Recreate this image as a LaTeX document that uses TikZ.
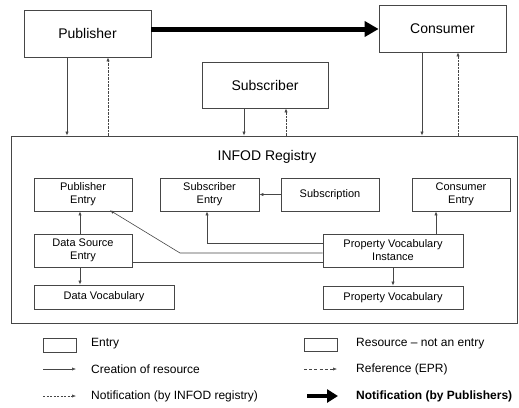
\documentclass[tikz,border=0pt]{standalone}
\usepackage{fontspec}
\setmainfont{Liberation Sans}
\usetikzlibrary{arrows.meta}
\definecolor{ln}{RGB}{70,70,70}
\begin{document}
\begin{tikzpicture}[x=1pt,y=-1pt,
  box/.style={draw=ln,line width=0.7pt,inner sep=1pt,align=center},
  bigbox/.style={box,font=\fontsize{14}{16}\selectfont},
  smallbox/.style={box,font=\fontsize{11}{13}\selectfont},
  sol/.style={draw=ln,line width=0.6pt,-{Latex[length=4pt,width=3.2pt]}},
  dsh/.style={sol,dash pattern=on 2.2pt off 1.3pt},
  refd/.style={sol,dash pattern=on 3pt off 2.2pt},
  thick arr/.style={draw=black,line width=5pt,-{Triangle[length=14pt,width=15pt]}},
  legtext/.style={anchor=west,font=\fontsize{12}{14}\selectfont,inner sep=0pt}]
\useasboundingbox (0,0) rectangle (519,407);
% top-level nodes
\node[bigbox,minimum width=127pt,minimum height=47pt] (pub) at (87.5,33.5) {Publisher};
\node[bigbox,minimum width=127pt,minimum height=47pt] (con) at (442.5,28.5) {Consumer};
\node[bigbox,minimum width=126pt,minimum height=46pt] (sub) at (265,85) {Subscriber};
\node[box,minimum width=506pt,minimum height=187pt] (reg) at (264,229.5) {};
\node[font=\fontsize{14}{16}\selectfont,inner sep=0pt] (regl) at (267,157) {INFOD Registry};
% registry content
\node[smallbox,minimum width=98pt,minimum height=33pt] (pe) at (83,194.5) {Publisher\\Entry};
\node[smallbox,minimum width=99pt,minimum height=33pt] (se) at (209.5,194.5) {Subscriber\\Entry};
\node[smallbox,minimum width=98pt,minimum height=33pt] (sn) at (330,194.5) {Subscription};
\node[smallbox,minimum width=98pt,minimum height=33pt] (ce) at (461,194.5) {Consumer\\Entry};
\node[smallbox,minimum width=98pt,minimum height=33pt] (dse) at (83,250.5) {Data Source\\Entry};
\node[smallbox,minimum width=140pt,minimum height=24pt] (dv) at (104,297) {Data Vocabulary};
\node[smallbox,minimum width=140pt,minimum height=33pt] (pvi) at (393,250.5) {Property Vocabulary\\Instance};
\node[smallbox,minimum width=140pt,minimum height=23pt] (pv) at (393,297.5) {Property Vocabulary};
% top connectors
\draw[thick arr] (pub.east |- 0,29) -- (con.west |- 0,29);
\draw[sol] (pub.south -| 67,0) -- (reg.north -| 67,0);
\draw[dsh] (reg.north -| 108,0) -- (pub.south -| 108,0);
\draw[sol] (sub.south -| 244,0) -- (reg.north -| 244,0);
\draw[dsh] (reg.north -| 286,0) -- (sub.south -| 286,0);
\draw[sol] (con.south -| 422,0) -- (reg.north -| 422,0);
\draw[dsh] (reg.north -| 458,0) -- (con.south -| 458,0);
% inner connectors
\draw[sol] (dse.north -| 80,0) -- (pe.south -| 80,0);
\draw[sol] (dse.south -| 80,0) -- (dv.north -| 80,0);
\draw[sol] (pvi.north -| 436,0) -- (ce.south -| 436,0);
\draw[sol] (pvi) -- (pv);
\draw[sol] (sn.west) -- (se.east);
\draw[sol] (pvi.west |- 0,243) -| (se.south -| 207,0);
\draw[sol] (pvi.west |- 0,253) -- (180,253) -- ([yshift=1pt]pe.south -| 110,0);
\draw[draw=ln,line width=0.6pt] (dse.east |- 0,262) -- (pvi.west |- 0,262);
% legend
\node[box,minimum width=33pt,minimum height=14pt] (le) at (59.5,345) {};
\node[legtext] (let) at (91,344) {Entry};
\coordinate (la1) at (43,369); \coordinate (la2) at (76,369);
\draw[sol] (la1) -- (la2);
\node[legtext] (lat) at (91,369) {Creation of resource};
\coordinate (lb1) at (43,396); \coordinate (lb2) at (76,396);
\draw[dsh] (lb1) -- (lb2);
\node[legtext] (lbt) at (91,396) {Notification (by INFOD registry)};
\node[box,minimum width=33pt,minimum height=13pt] (lr) at (320.5,344.5) {};
\node[legtext] (lrt) at (356,344) {Resource -- not an entry};
\coordinate (lc1) at (304,369); \coordinate (lc2) at (337,369);
\draw[refd] (lc1) -- (lc2);
\node[legtext] (lct) at (356,369) {Reference (EPR)};
\coordinate (ld1) at (307,396); \coordinate (ld2) at (338,396);
\draw[draw=black,line width=4.5pt,-{Triangle[length=11pt,width=13pt]}] (ld1) -- (ld2);
\node[legtext,font=\fontsize{12}{14}\selectfont\bfseries] (ldt) at (356,396) {Notification (by Publishers)};
\end{tikzpicture}
\end{document}
